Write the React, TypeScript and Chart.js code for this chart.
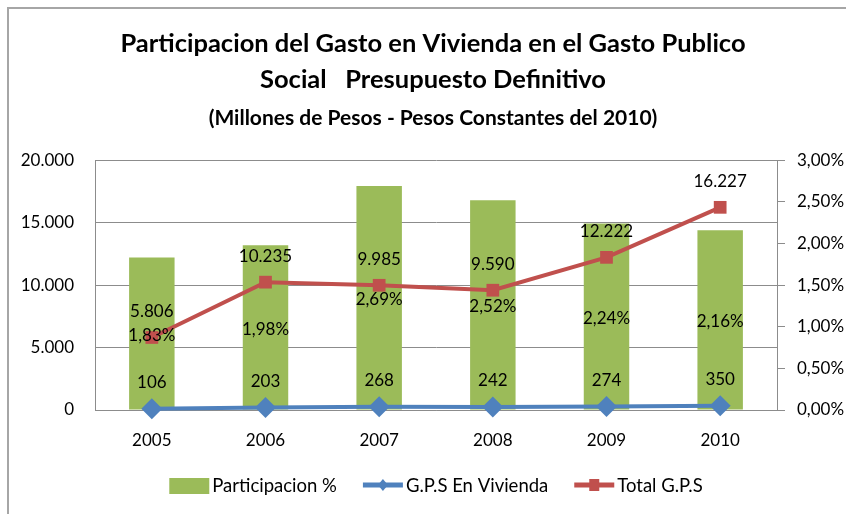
import React, { useEffect, useRef } from 'react';
import { Chart, registerables } from 'chart.js';

Chart.register(...registerables);

// ---------- DATA ----------
const categories = ['2005', '2006', '2007', '2008', '2009', '2010'];
const participacion = [1.83, 1.98, 2.69, 2.52, 2.24, 2.16];
const gpsVivienda = [106, 203, 268, 242, 274, 350];
const totalGps = [5806, 10235, 9985, 9590, 12222, 16227];
const seriesNames = ['Participacion %', 'G.P.S En Vivienda', 'Total G.P.S'];
const titleLines = [
  'Participacion del Gasto en Vivienda en el Gasto Publico',
  'Social   Presupuesto Definitivo',
];
const subtitleLine = '(Millones de Pesos - Pesos Constantes del 2010)';
const leftAxis = { min: 0, max: 20000, step: 5000 };
const rightAxis = { min: 0, max: 3, step: 0.5 };

// ---------- STYLE ----------
const FONT = 'Lato, "Open Sans", sans-serif';
const GREEN = '#9BBB59';
const BLUE = '#4F81BD';
const RED = '#C0504D';
const GRID = '#8C8C8C';
const TEXT = '#000000';

const fmtThousands = (v: number) =>
  String(Math.round(v)).replace(/\B(?=(\d{3})+(?!\d))/g, '.');
const fmtPct = (v: number) => Number(v).toFixed(2).replace('.', ',') + '%';

const framePlugin = {
  id: 'frame',
  beforeDraw(chart: any) {
    const { ctx, width, height } = chart;
    ctx.save();
    ctx.fillStyle = '#ffffff';
    ctx.fillRect(0, 0, width, height);
    ctx.strokeStyle = '#A6A6A6';
    ctx.lineWidth = 2;
    ctx.beginPath();
    ctx.moveTo(8, height + 2);
    ctx.lineTo(8, 8);
    ctx.lineTo(width + 2, 8);
    ctx.stroke();
    ctx.restore();
  },
};

const labelsPlugin = {
  id: 'valueLabels',
  afterDatasetsDraw(chart: any) {
    const { ctx } = chart;
    ctx.save();
    ctx.font = `17px ${FONT}`;
    ctx.fillStyle = TEXT;
    ctx.textAlign = 'center';
    ctx.textBaseline = 'middle';
    chart.data.datasets.forEach((ds: any, i: number) => {
      const meta = chart.getDatasetMeta(i);
      meta.data.forEach((el: any, j: number) => {
        const v = ds.data[j];
        if (ds.type === 'bar') {
          const y = (el.y + el.base) / 2 + 2;
          ctx.fillText(fmtPct(v), el.x, y);
        } else {
          ctx.fillText(fmtThousands(v), el.x, el.y - 26);
        }
      });
    });
    ctx.restore();
  },
};

const legendPlugin = {
  id: 'customLegend',
  afterDraw(chart: any) {
    const { ctx, chartArea } = chart;
    ctx.save();
    ctx.font = `18.5px ${FONT}`;
    ctx.textBaseline = 'middle';
    ctx.textAlign = 'left';
    const cy = 486;
    const sw = 40;
    const gapText = 3;
    const gapItem = 26;
    const dss = chart.data.datasets;
    const widths = dss.map((ds: any) => sw + gapText + ctx.measureText(ds.label).width);
    const total = widths.reduce((a: number, b: number) => a + b, 0) + gapItem * (dss.length - 1);
    let x = (chartArea.left + chartArea.right) / 2 - total / 2;
    dss.forEach((ds: any, i: number) => {
      if (ds.type === 'bar') {
        ctx.fillStyle = ds.backgroundColor;
        ctx.fillRect(x, cy - 8, sw, 16);
      } else {
        ctx.strokeStyle = ds.borderColor;
        ctx.lineWidth = 5;
        ctx.beginPath();
        ctx.moveTo(x, cy - 1);
        ctx.lineTo(x + sw, cy - 1);
        ctx.stroke();
        ctx.fillStyle = ds.borderColor;
        const mx = x + sw / 2;
        if (ds.pointStyle === 'rectRot') {
          ctx.beginPath();
          ctx.moveTo(mx, cy - 7);
          ctx.lineTo(mx + 5, cy - 1);
          ctx.lineTo(mx, cy + 5);
          ctx.lineTo(mx - 5, cy - 1);
          ctx.closePath();
          ctx.fill();
        } else {
          ctx.fillRect(mx - 5, cy - 7, 10, 12);
        }
      }
      ctx.fillStyle = TEXT;
      ctx.fillText(ds.label, x + sw + gapText, cy);
      x += widths[i] + gapItem;
    });
    ctx.restore();
  },
};

export default function App() {
  const ref = useRef<HTMLCanvasElement | null>(null);

  useEffect(() => {
    if (!ref.current) return;
    const chart = new Chart(ref.current, {
      type: 'bar',
      data: {
        labels: categories,
        datasets: [
          {
            type: 'bar',
            label: seriesNames[0],
            data: participacion,
            backgroundColor: GREEN,
            borderWidth: 0,
            barPercentage: 0.4,
            categoryPercentage: 1.0,
            yAxisID: 'y1',
            order: 2,
          } as any,
          {
            type: 'line',
            label: seriesNames[1],
            data: gpsVivienda,
            borderColor: BLUE,
            backgroundColor: BLUE,
            borderWidth: 4,
            pointStyle: 'rectRot',
            pointRadius: 10.5,
            pointBackgroundColor: BLUE,
            pointBorderWidth: 0,
            tension: 0,
            clip: false,
            yAxisID: 'y',
            order: 1,
          } as any,
          {
            type: 'line',
            label: seriesNames[2],
            data: totalGps,
            borderColor: RED,
            backgroundColor: RED,
            borderWidth: 4,
            pointStyle: 'rect',
            pointRadius: 9,
            pointBackgroundColor: RED,
            pointBorderWidth: 0,
            tension: 0,
            clip: false,
            yAxisID: 'y',
            order: 0,
          } as any,
        ],
      },
      options: {
        responsive: false,
        animation: false,
        events: [],
        devicePixelRatio: 1,
        layout: { padding: { left: 20, right: 0, top: 0, bottom: 60 } },
        plugins: {
          legend: { display: false },
          tooltip: { enabled: false },
          title: {
            display: true,
            text: titleLines,
            color: TEXT,
            font: { family: FONT, size: 25.5, weight: 'bold', lineHeight: 36 / 25.5 },
            padding: { top: 26, bottom: 0 },
          },
          subtitle: {
            display: true,
            text: subtitleLine,
            color: TEXT,
            font: { family: FONT, size: 21, weight: 'bold', lineHeight: 1.2 },
            padding: { top: 8, bottom: 29 },
          },
        },
        scales: {
          x: {
            type: 'category',
            offset: true,
            grid: { display: false, drawTicks: false },
            border: { display: true, color: GRID, width: 1 },
            ticks: { color: TEXT, font: { family: FONT, size: 17 }, padding: 20 },
            afterFit: (s: any) => {
              s.height = 44;
            },
          },
          y: {
            type: 'linear',
            position: 'left',
            min: leftAxis.min,
            max: leftAxis.max,
            ticks: {
              stepSize: leftAxis.step,
              color: TEXT,
              font: { family: FONT, size: 17 },
              padding: 21,
              callback: (v: any) => fmtThousands(Number(v)),
            },
            grid: { color: GRID, drawTicks: false, lineWidth: 1 },
            border: { display: true, color: GRID, width: 1 },
            afterFit: (s: any) => {
              s.width = 75;
            },
          },
          y1: {
            type: 'linear',
            position: 'right',
            min: rightAxis.min,
            max: rightAxis.max,
            ticks: {
              stepSize: rightAxis.step,
              color: TEXT,
              font: { family: FONT, size: 17 },
              padding: 12,
              callback: (v: any) => fmtPct(Number(v)),
            },
            grid: { drawOnChartArea: false, drawTicks: true, tickLength: 8, color: GRID },
            border: { display: true, color: GRID, width: 1 },
            afterFit: (s: any) => {
              s.width = 69;
            },
          },
        },
      } as any,
      plugins: [framePlugin, labelsPlugin, legendPlugin],
    });
    return () => chart.destroy();
  }, []);

  return (
    <div style={{ position: 'fixed', left: 0, top: 0, width: 846, height: 514 }}>
      <canvas ref={ref} width={846} height={514} style={{ display: 'block' }} />
    </div>
  );
}
